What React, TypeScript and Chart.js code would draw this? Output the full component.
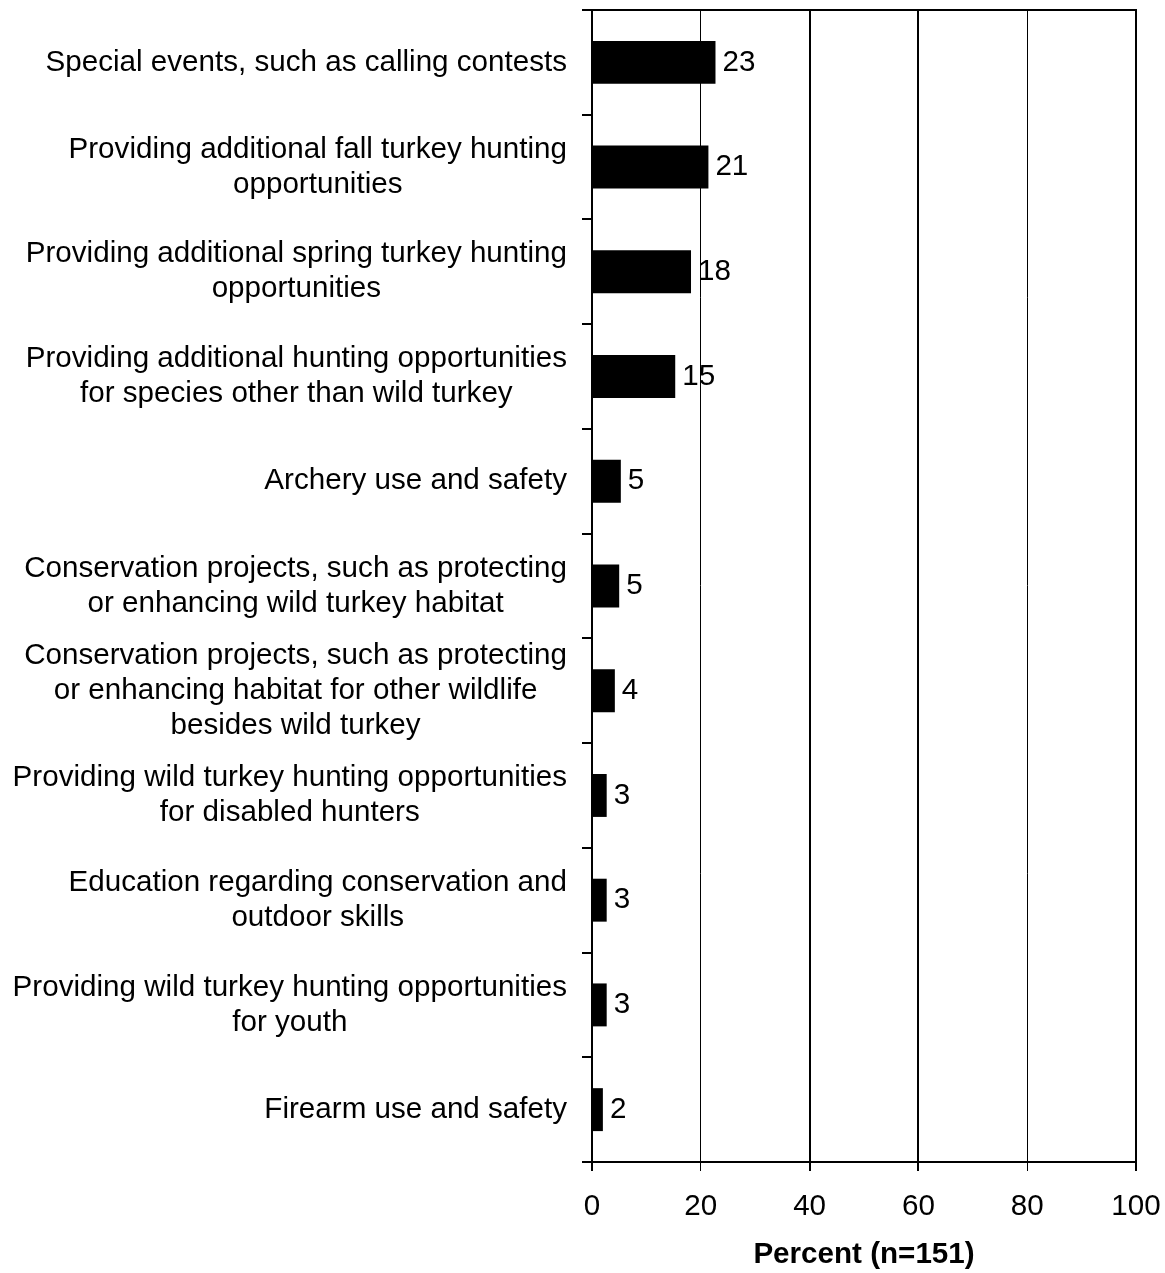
import React, { useEffect, useRef } from "react";
import { Chart, registerables } from "chart.js";

Chart.register(...registerables);

const categories: string[][] = [
  ["Special events, such as calling contests"],
  ["Providing additional fall turkey hunting", "opportunities"],
  ["Providing additional spring turkey hunting", "opportunities"],
  ["Providing additional hunting opportunities", "for species other than wild turkey"],
  ["Archery use and safety"],
  ["Conservation projects, such as protecting", "or enhancing wild turkey habitat"],
  ["Conservation projects, such as protecting", "or enhancing habitat for other wildlife", "besides wild turkey"],
  ["Providing wild turkey hunting opportunities", "for disabled hunters"],
  ["Education regarding conservation and", "outdoor skills"],
  ["Providing wild turkey hunting opportunities", "for youth"],
  ["Firearm use and safety"],
];
const percentValues = [22.7, 21.4, 18.2, 15.3, 5.3, 5.0, 4.2, 2.7, 2.7, 2.7, 2.0];
const valueLabels = ["23", "21", "18", "15", "5", "5", "4", "3", "3", "3", "2"];
const xTickValues = [0, 20, 40, 60, 80, 100];
const axisTitle = "Percent (n=151)";

const FONT = 'Arial, "Liberation Sans", sans-serif';
const FS = 29.6;
const LINE_H = 35;

export default function App() {
  const ref = useRef<HTMLCanvasElement | null>(null);

  useEffect(() => {
    if (!ref.current) return;

    const labelPlugin = {
      id: "catLabels",
      afterDraw(chart: any) {
        const ctx = chart.ctx;
        const ys = chart.scales.y;
        const area = chart.chartArea;
        ctx.save();
        // top border
        ctx.strokeStyle = "#000";
        ctx.lineWidth = 2;
        ctx.beginPath();
        ctx.moveTo(area.left - 10, area.top);
        ctx.lineTo(area.right + 1, area.top);
        ctx.stroke();
        // category labels: block right-aligned, lines centered
        ctx.font = `${FS}px ${FONT}`;
        ctx.fillStyle = "#000";
        ctx.textAlign = "center";
        ctx.textBaseline = "middle";
        const rightEdge = area.left - 25;
        categories.forEach((lines, i) => {
          const cy = ys.getPixelForValue(i);
          const w = Math.max(...lines.map((l) => ctx.measureText(l).width));
          const cx = rightEdge - w / 2;
          lines.forEach((l, j) => {
            ctx.fillText(l, cx, cy + (j - (lines.length - 1) / 2) * LINE_H);
          });
        });
        ctx.restore();
      },
      afterDatasetsDraw(chart: any) {
        const ctx = chart.ctx;
        const meta = chart.getDatasetMeta(0);
        ctx.save();
        ctx.font = `${FS}px ${FONT}`;
        ctx.fillStyle = "#000";
        ctx.textAlign = "left";
        ctx.textBaseline = "middle";
        meta.data.forEach((bar: any, i: number) => {
          ctx.fillText(valueLabels[i], bar.x + 7, bar.y);
        });
        ctx.restore();
      },
    };

    const gridWidths = [2, 1, 2, 2, 1, 2];

    const chart = new Chart(ref.current, {
      type: "bar",
      data: {
        labels: categories,
        datasets: [
          {
            data: percentValues,
            backgroundColor: "#000",
            borderWidth: 0,
            barPercentage: 0.41,
            categoryPercentage: 1,
          },
        ],
      },
      options: {
        indexAxis: "y",
        animation: false,
        responsive: true,
        maintainAspectRatio: false,
        layout: { padding: { top: 10, right: 29, left: 0, bottom: 0 } },
        plugins: { legend: { display: false }, tooltip: { enabled: false } },
        scales: {
          x: {
            type: "linear",
            min: 0,
            max: 100,
            afterBuildTicks: (scale: any) => {
              scale.ticks = xTickValues.map((v) => ({ value: v }));
            },
            afterFit: (scale: any) => {
              scale.height = 111;
            },
            ticks: {
              color: "#000",
              font: { family: FONT, size: FS, lineHeight: 2.3 },
              padding: 2,
            },
            grid: {
              color: "#000",
              lineWidth: (c: any) => gridWidths[c.index] ?? 1,
              tickLength: 9,
            },
            border: { display: true, color: "#000", width: 2 },
            title: {
              display: true,
              text: axisTitle,
              color: "#000",
              font: { family: FONT, size: FS, weight: "bold", lineHeight: 1.2 },
              padding: { top: 0, bottom: 0 },
            },
          },
          y: {
            type: "category",
            afterFit: (scale: any) => {
              scale.width = 592;
            },
            ticks: { display: false },
            grid: {
              drawOnChartArea: false,
              drawTicks: true,
              tickLength: 10,
              color: "#000",
              lineWidth: 2,
              offset: true,
            },
            border: { display: true, color: "#000", width: 2 },
          },
        },
      },
      plugins: [labelPlugin],
    } as any);

    return () => chart.destroy();
  }, []);

  return (
    <div style={{ position: "absolute", left: 0, top: 0, width: 1165, height: 1273, background: "#fff" }}>
      <canvas ref={ref} />
    </div>
  );
}
